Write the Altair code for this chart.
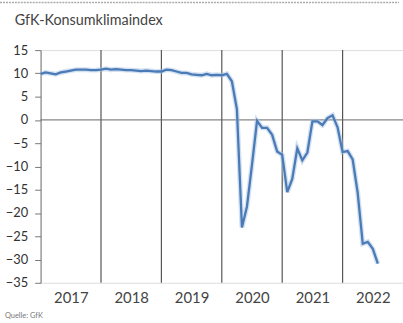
import altair as alt
import pandas as pd

# GfK consumer climate index, monthly values Jan 2017 - Aug 2022
years = [2017, 2018, 2019, 2020, 2021, 2022]
values_2017 = [9.9, 10.2, 10.0, 9.8, 10.2, 10.4, 10.6, 10.8, 10.8, 10.8, 10.7, 10.7]
values_2018 = [10.8, 11.0, 10.8, 10.9, 10.8, 10.7, 10.7, 10.6, 10.5, 10.6, 10.5, 10.4]
values_2019 = [10.4, 10.8, 10.7, 10.4, 10.1, 10.1, 9.8, 9.7, 9.6, 9.9, 9.6, 9.7]
values_2020 = [9.6, 9.9, 8.3, 2.3, -23.1, -18.6, -9.6, -0.2, -1.7, -1.7, -3.2, -6.8]
values_2021 = [-7.5, -15.5, -12.7, -6.1, -8.7, -7.0, -0.3, -0.3, -1.1, 0.4, 1.0, -1.6]
values_2022 = [-6.9, -6.7, -8.5, -15.7, -26.6, -26.2, -27.7, -30.9]
y_ticks = [15, 10, 5, 0, -5, -10, -15, -20, -25, -30, -35]

series = [values_2017, values_2018, values_2019, values_2020, values_2021, values_2022]
rows = []
for yr, vals in zip(years, series):
    for m, v in enumerate(vals):
        rows.append({"t": yr + m / 12.0, "value": v})
df = pd.DataFrame(rows)

boundaries = pd.DataFrame({"t": years[1:]})
zero = pd.DataFrame({"value": [0]})

x_scale = alt.Scale(domain=[2017, 2023], nice=False, zero=False)
y_scale = alt.Scale(domain=[-35, 15], nice=False)

font = "Lato"

x_axis = alt.Axis(values=[y + 0.5 for y in years], labelExpr="floor(datum.value)",
                  title=None, domain=False, ticks=False, grid=False,
                  labelFontSize=15, labelColor="#444", labelFont=font,
                  labelPadding=8, labelOverlap=False)
y_axis = alt.Axis(values=y_ticks, title=None, grid=False, domainColor="#777",
                  tickColor="#777", tickSize=6, labelFontSize=13,
                  labelColor="#333", labelFont=font, labelPadding=7,
                  labelOverlap=False)

halo = alt.Chart(df).mark_line(color="#a9c3e3", strokeWidth=5, opacity=0.5).encode(
    x=alt.X("t:Q", scale=x_scale, axis=x_axis),
    y=alt.Y("value:Q", scale=y_scale, axis=y_axis),
)

line = alt.Chart(df).mark_line(color="#4a7bb7", strokeWidth=2.3).encode(
    x=alt.X("t:Q", scale=x_scale, axis=x_axis),
    y=alt.Y("value:Q", scale=y_scale, axis=y_axis),
)

vrules = alt.Chart(boundaries).mark_rule(color="#555", strokeWidth=1.2).encode(
    x=alt.X("t:Q", scale=x_scale, axis=x_axis)
)
hrule = alt.Chart(zero).mark_rule(color="#666", strokeWidth=1).encode(
    y=alt.Y("value:Q", scale=y_scale, axis=y_axis)
)

top_rule = alt.Chart(zero).mark_rule(color="#aaa", strokeWidth=1.5, strokeDash=[2, 1]).encode(
    x=alt.value(-41), x2=alt.value(362), y=alt.value(-48)
)

title_text = alt.Chart(zero).mark_text(
    text="GfK-Konsumklimaindex", align="left", baseline="middle",
    fontSize=14.5, font=font, color="#444"
).encode(x=alt.value(-26), y=alt.value(-29))

source_text = alt.Chart(zero).mark_text(
    text="Quelle: GfK", align="left", baseline="middle",
    fontSize=7.5, font=font, color="#777"
).encode(x=alt.value(-36), y=alt.value(269))

chart = alt.layer(vrules, hrule, halo, line, top_rule, title_text, source_text).properties(
    width=366, height=235,
    autosize=alt.AutoSizeParams(type="none"),
    padding={"left": 41, "top": 49, "right": 0, "bottom": 39},
).configure_view(stroke=None).configure_axis(labelOverlap=False).configure(background="white")

chart.save("out.html", embed_options={"renderer": "svg", "actions": False})
